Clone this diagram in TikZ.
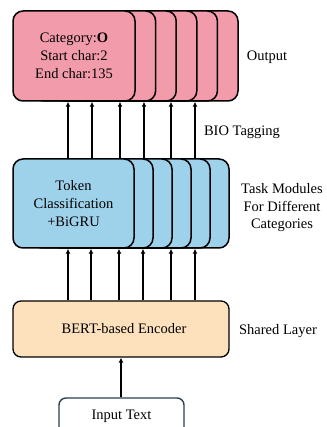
\documentclass[tikz,border=0pt]{standalone}
\usepackage{fontspec}
\setmainfont{Liberation Serif}
\usetikzlibrary{arrows.meta}
\definecolor{outpink}{HTML}{F29BAB}
\definecolor{modblue}{HTML}{9ED2EB}
\definecolor{encpeach}{HTML}{FDE0BC}
\definecolor{inborder}{HTML}{2B3F4F}
\tikzset{
  stackbox/.style={draw=black, line width=1.5pt, rounded corners=10pt, inner sep=0pt},
  outbox/.style={stackbox, fill=outpink, minimum width=122pt, minimum height=90pt},
  modbox/.style={stackbox, fill=modblue, minimum width=121pt, minimum height=89pt},
  encbox/.style={draw=black, line width=1.3pt, rounded corners=8pt, fill=encpeach,
    minimum width=216pt, minimum height=56pt, inner sep=0pt},
  inbox/.style={draw=inborder, line width=1.4pt, rounded corners=7pt, fill=white,
    minimum width=125pt, minimum height=36pt, inner sep=0pt},
  flow/.style={line width=1.2pt, -{Latex[length=5pt,width=5pt]}},
  sidelabel/.style={align=center, inner sep=0pt},
  every node/.append style={font=\fontsize{14.5}{18}\selectfont}
}
\begin{document}
\begin{tikzpicture}[x=1pt,y=1pt]
\useasboundingbox (0,0) rectangle (326,427);
\clip (0,0) rectangle (326,427);
\fill[white] (0,0) rectangle (326,427);

% output stack, drawn back to front
\foreach \i in {5,4,...,1}{
  \node[outbox] (out\i) at (74+20.6*\i,371) {};
}
\node[outbox, align=center] (out0) at (74,371)
  {Category:\textbf{O}\\Start char:2\\End char:135};

% task module stack, drawn back to front
\foreach \i in {5,4,...,1}{
  \node[modbox] (mod\i) at (73.5+19*\i,223.5) {};
}
\node[modbox, align=center] (mod0) at (73.5,223.5)
  {Token\\Classification\\+BiGRU};

% shared encoder and input
\node[encbox] (bert) at (121,98) {\hspace{6pt}BERT-based Encoder};
\node[inbox] (input) at (121.5,11) {Input Text};

% connectors
\foreach \px in {68,92,120,144,171,195}{
  \coordinate (a\px) at (\px,0);
  \draw[flow] (mod0.north -| a\px) -- (out0.south -| a\px);
}
\foreach \px in {68,91,119,143,171,195}{
  \coordinate (b\px) at (\px,0);
  \draw[flow] (bert.north -| b\px) -- (mod0.south -| b\px);
}
\draw[flow] (input.north -| bert.south) -- (bert.south);

% layer labels
\node[sidelabel] (lout) at (267,370) {Output};
\node[sidelabel] (lbio) at (242,295) {BIO Tagging};
\node[sidelabel, font=\fontsize{14.5}{17.5}\selectfont] (ltask) at (282,219)
  {Task Modules\\For Different\\Categories};
\node[sidelabel] (lshared) at (278,96) {Shared Layer};
\end{tikzpicture}
\end{document}
